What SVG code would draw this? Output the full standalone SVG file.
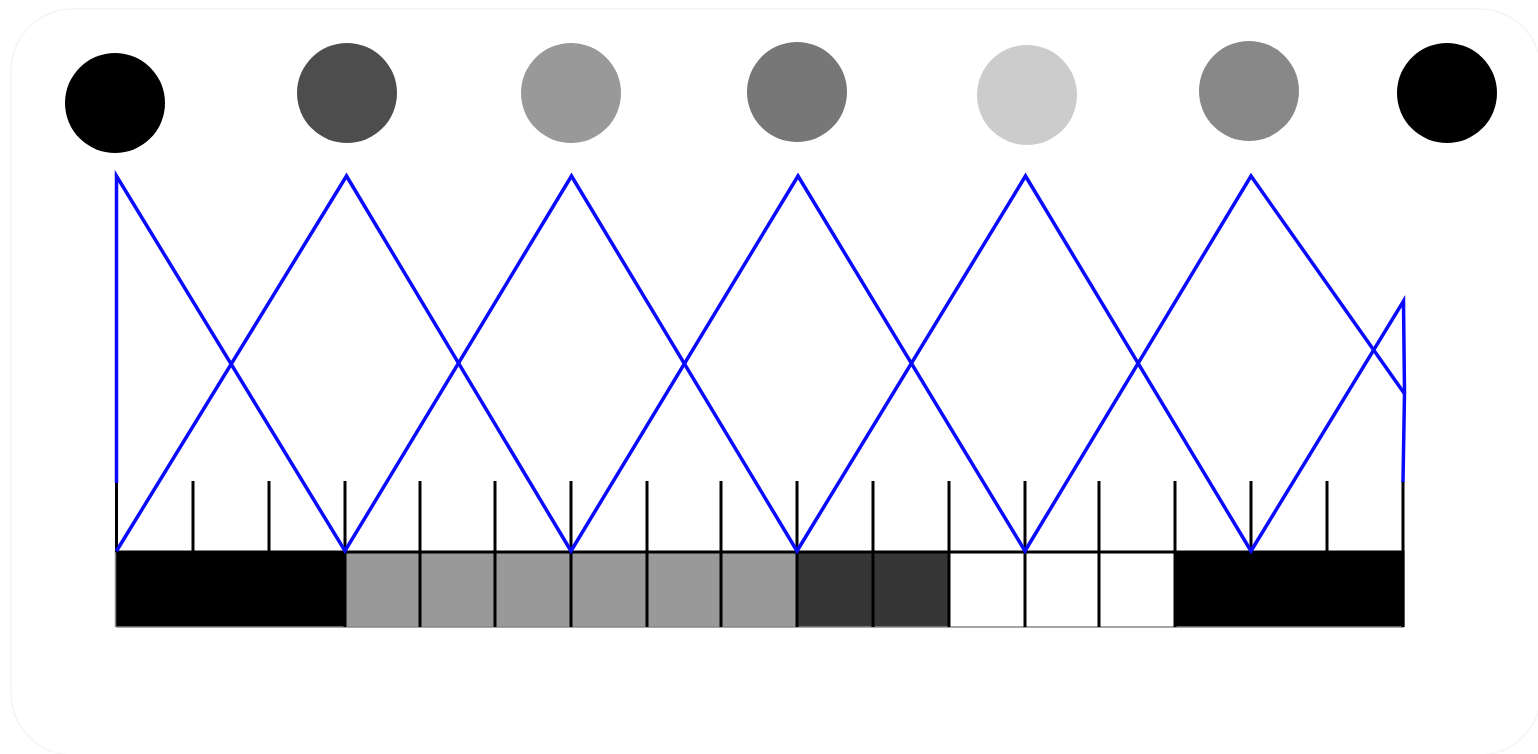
<svg xmlns="http://www.w3.org/2000/svg" width="1538" height="754" viewBox="0 0 1538 754">
  <style>
    .frame { fill: #ffffff; stroke: #f4f4f4; stroke-width: 1.5; }
    .dot { stroke: none; }
    .wave { fill: none; stroke: #0a0aff; stroke-width: 3.5; stroke-linejoin: miter; stroke-linecap: butt; }
    .tick { stroke: #000000; stroke-width: 3; }
    .cell { stroke: none; }
    .rule { stroke: #000000; stroke-width: 3; fill: none; }
    .edge { stroke: #888888; stroke-width: 1.5; fill: none; }
  </style>

  <rect width="1538" height="754" fill="#ffffff"/>
  <rect class="frame" x="11" y="9" width="1530" height="746" rx="62" ry="62"/>

  <!-- row of shaded discs -->
  <g id="disc-1"><circle class="dot" cx="115" cy="103" r="50" fill="#000000"/></g>
  <g id="disc-2"><circle class="dot" cx="347" cy="93" r="50" fill="#4d4d4d"/></g>
  <g id="disc-3"><circle class="dot" cx="571" cy="93" r="50" fill="#999999"/></g>
  <g id="disc-4"><circle class="dot" cx="797" cy="92" r="50" fill="#777777"/></g>
  <g id="disc-5"><circle class="dot" cx="1027" cy="95" r="50" fill="#cccccc"/></g>
  <g id="disc-6"><circle class="dot" cx="1249" cy="91" r="50" fill="#888888"/></g>
  <g id="disc-7"><circle class="dot" cx="1447" cy="93" r="50" fill="#000000"/></g>

  <!-- shaded strip -->
  <g id="strip">
    <rect class="cell" x="116" y="551" width="230" height="76" fill="#000000"/>
    <rect class="cell" x="346" y="551" width="451" height="76" fill="#999999"/>
    <rect class="cell" x="797" y="551" width="152" height="76" fill="#363636"/>
    <rect class="cell" x="949" y="551" width="226" height="76" fill="#ffffff"/>
    <rect class="cell" x="1175" y="551" width="229" height="76" fill="#000000"/>
    <line class="edge" x1="116" y1="627" x2="1404" y2="627"/>
    <line class="edge" x1="115.5" y1="551" x2="115.5" y2="627"/>
    <line class="edge" x1="1404" y1="551" x2="1404" y2="627"/>
    <line class="rule" x1="116" y1="552" x2="1404" y2="552"/>
  </g>

  <!-- scale ticks -->
  <g id="ticks">
    <line class="tick" x1="116.5" y1="481" x2="116.5" y2="552"/>
    <line class="tick" x1="193" y1="481" x2="193" y2="552"/>
    <line class="tick" x1="269" y1="481" x2="269" y2="552"/>
    <line class="tick" x1="345" y1="481" x2="345" y2="627"/>
    <line class="tick" x1="420" y1="481" x2="420" y2="627"/>
    <line class="tick" x1="495" y1="481" x2="495" y2="627"/>
    <line class="tick" x1="571" y1="481" x2="571" y2="627"/>
    <line class="tick" x1="647" y1="481" x2="647" y2="627"/>
    <line class="tick" x1="721" y1="481" x2="721" y2="627"/>
    <line class="tick" x1="797" y1="481" x2="797" y2="627"/>
    <line class="tick" x1="873" y1="481" x2="873" y2="627"/>
    <line class="tick" x1="949" y1="481" x2="949" y2="627"/>
    <line class="tick" x1="1025" y1="481" x2="1025" y2="627"/>
    <line class="tick" x1="1099" y1="481" x2="1099" y2="627"/>
    <line class="tick" x1="1175" y1="481" x2="1175" y2="627"/>
    <line class="tick" x1="1251" y1="481" x2="1251" y2="552"/>
    <line class="tick" x1="1327" y1="481" x2="1327" y2="552"/>
    <line class="tick" x1="1403" y1="481" x2="1403" y2="627"/>
  </g>

  <!-- interleaved triangular waves -->
  <g id="connectors">
    <polyline class="wave" points="116.5,483 116.5,176 345,551 571.5,176 797,551 1025.5,176 1251,551 1403.5,301 1404.5,393 1403,482"/>
    <polyline class="wave" points="116.5,551 346.5,176 571,551 798,176 1025,551 1251,176 1404,393"/>
  </g>
</svg>
